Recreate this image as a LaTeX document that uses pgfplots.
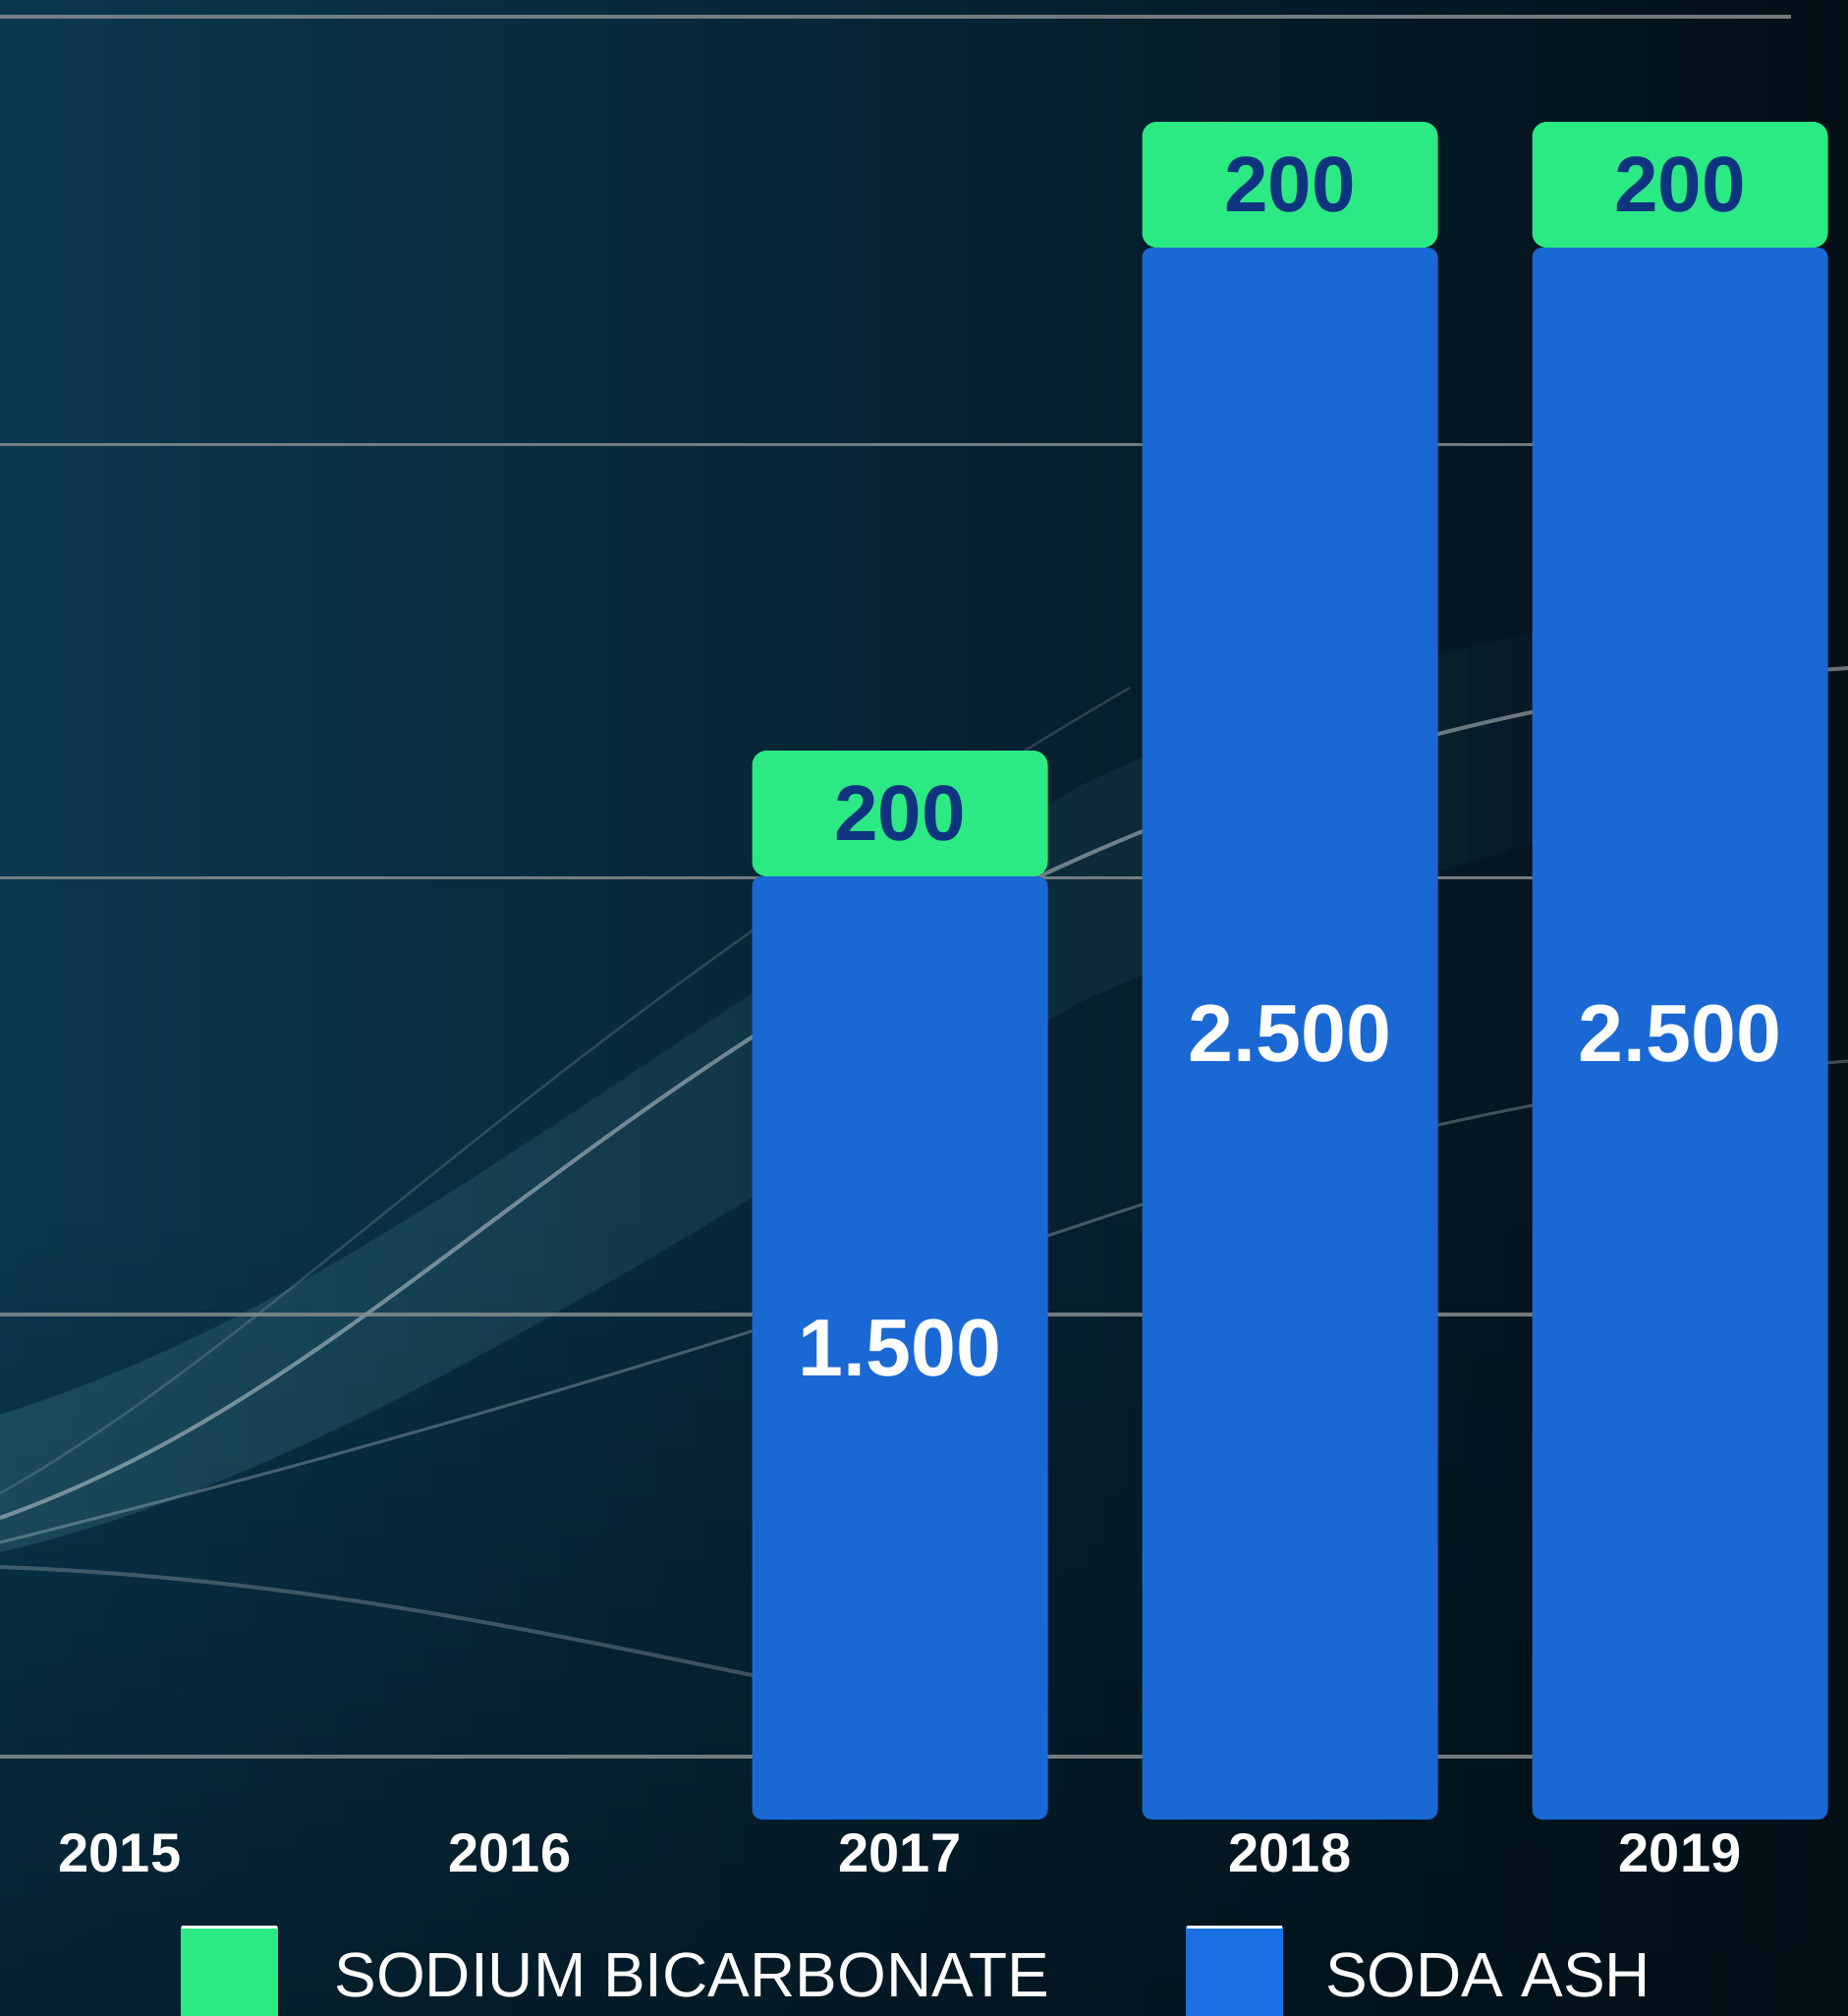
\documentclass[border=0pt]{standalone}
\usepackage{pgfplots}
\pgfplotsset{compat=1.18}
\usepackage{fontspec}
\setmainfont{Liberation Sans}
\usetikzlibrary{fadings}
\definecolor{bgA}{RGB}{11,56,80}
\definecolor{bgB}{RGB}{2,15,23}
\definecolor{grn}{RGB}{43,234,131}
\definecolor{blu}{RGB}{26,104,212}
\definecolor{bluLeg}{RGB}{26,112,226}
\definecolor{navy}{RGB}{14,52,128}
\definecolor{gridc}{RGB}{135,140,140}
\definecolor{wisp}{RGB}{90,160,175}
\pgfplotsset{/pgf/number format/assume math mode=true}
\begin{document}
\begin{tikzpicture}
\path[use as bounding box] (0,0) rectangle (376.2pt,-410.4pt);
\shade[left color=bgA, right color=bgB] (0,0) rectangle (376.2pt,-410.4pt);
\fill[bgB, path fading=north, opacity=0.55] (0,-250pt) rectangle (376.2pt,-410.4pt);
\begin{scope}[x=0.2pt,y=-0.2pt]
\fill[wisp, opacity=0.22, path fading=east] (0,1440) .. controls (350,1330) and (600,1100) .. (1100,800) .. controls (1350,680) and (1600,620) .. (1881,600) -- (1881,780) .. controls (1600,840) and (1300,930) .. (1100,1020) .. controls (700,1250) and (350,1500) .. (0,1580) -- cycle;
\draw[white, opacity=0.4, line width=0.8pt] (0,1545) .. controls (350,1420) and (550,1150) .. (1000,920) .. controls (1300,770) and (1600,700) .. (1881,680);
\draw[white, opacity=0.25, line width=0.6pt] (0,1570) .. controls (400,1470) and (700,1380) .. (1150,1230) .. controls (1400,1150) and (1650,1100) .. (1881,1080);
\draw[white, opacity=0.22, line width=0.8pt] (0,1595) .. controls (400,1610) and (700,1700) .. (1050,1760);
\draw[white, opacity=0.15, line width=0.5pt] (0,1520) .. controls (300,1350) and (550,1050) .. (1150,700);
\end{scope}
\begin{axis}[
  at={(0,0)}, anchor=north west,
  scale only axis, width=364.6pt, height=370.4pt,
  xmin=-0.3073, xmax=4.2846, ymin=0, ymax=2893.75,
  enlargelimits=false, clip=false,
  axis line style={draw=none}, tick style={draw=none},
  ytick={100,803,1498,2187,2867}, yticklabels={},
  ymajorgrids, grid style={draw=gridc, line width=0.7pt, opacity=0.85},
  xtick={0,1,2,3,4}, xticklabels={2015,2016,2017,2018,2019},
  xticklabel style={text=white, font=\bfseries\fontsize{11.2}{13}\selectfont, anchor=base, yshift=-10.6pt},
  ybar stacked, bar width=60.2pt,
  legend columns=2,
  legend style={at={(0,0)}, anchor=north west, xshift=36.6pt, yshift=-21.6pt,
    draw=none, fill=none, text=white, inner sep=0pt, outer sep=0pt,
    nodes={inner sep=0pt},
    font=\fontsize{12.8}{15}\selectfont,
    column sep=11.5pt, /tikz/every even column/.append style={column sep=27.6pt}},
]
\addplot[forget plot, draw=none, fill=blu, rounded corners=2pt,
  point meta=explicit symbolic,
  nodes near coords,
  every node near coord/.append style={anchor=center, text=white, font=\bfseries\fontsize{16.5}{19}\selectfont}]
  coordinates {(2,1500) [1.500] (3,2500) [2.500] (4,2500) [2.500]};
\addplot[forget plot, draw=none, fill=grn, rounded corners=3pt,
  point meta=explicit symbolic,
  nodes near coords,
  every node near coord/.append style={anchor=center, text=navy, font=\bfseries\fontsize{16}{19}\selectfont}]
  coordinates {(2,200) [200] (3,200) [200] (4,200) [200]};
\addlegendimage{legend image code/.code={\fill[grn] (0pt,-10pt) rectangle (19.4pt,10.4pt); \draw[white, line width=0.6pt] (0pt,10.4pt) -- (19.4pt,10.4pt);}}
\addlegendentry{SODIUM BICARBONATE}
\addlegendimage{legend image code/.code={\fill[bluLeg] (0pt,-10pt) rectangle (19.4pt,10.4pt); \draw[white, line width=0.6pt] (0pt,10.4pt) -- (19.4pt,10.4pt);}}
\addlegendentry{\hspace{-2.9pt}SODA ASH}
\end{axis}
\end{tikzpicture}
\end{document}
